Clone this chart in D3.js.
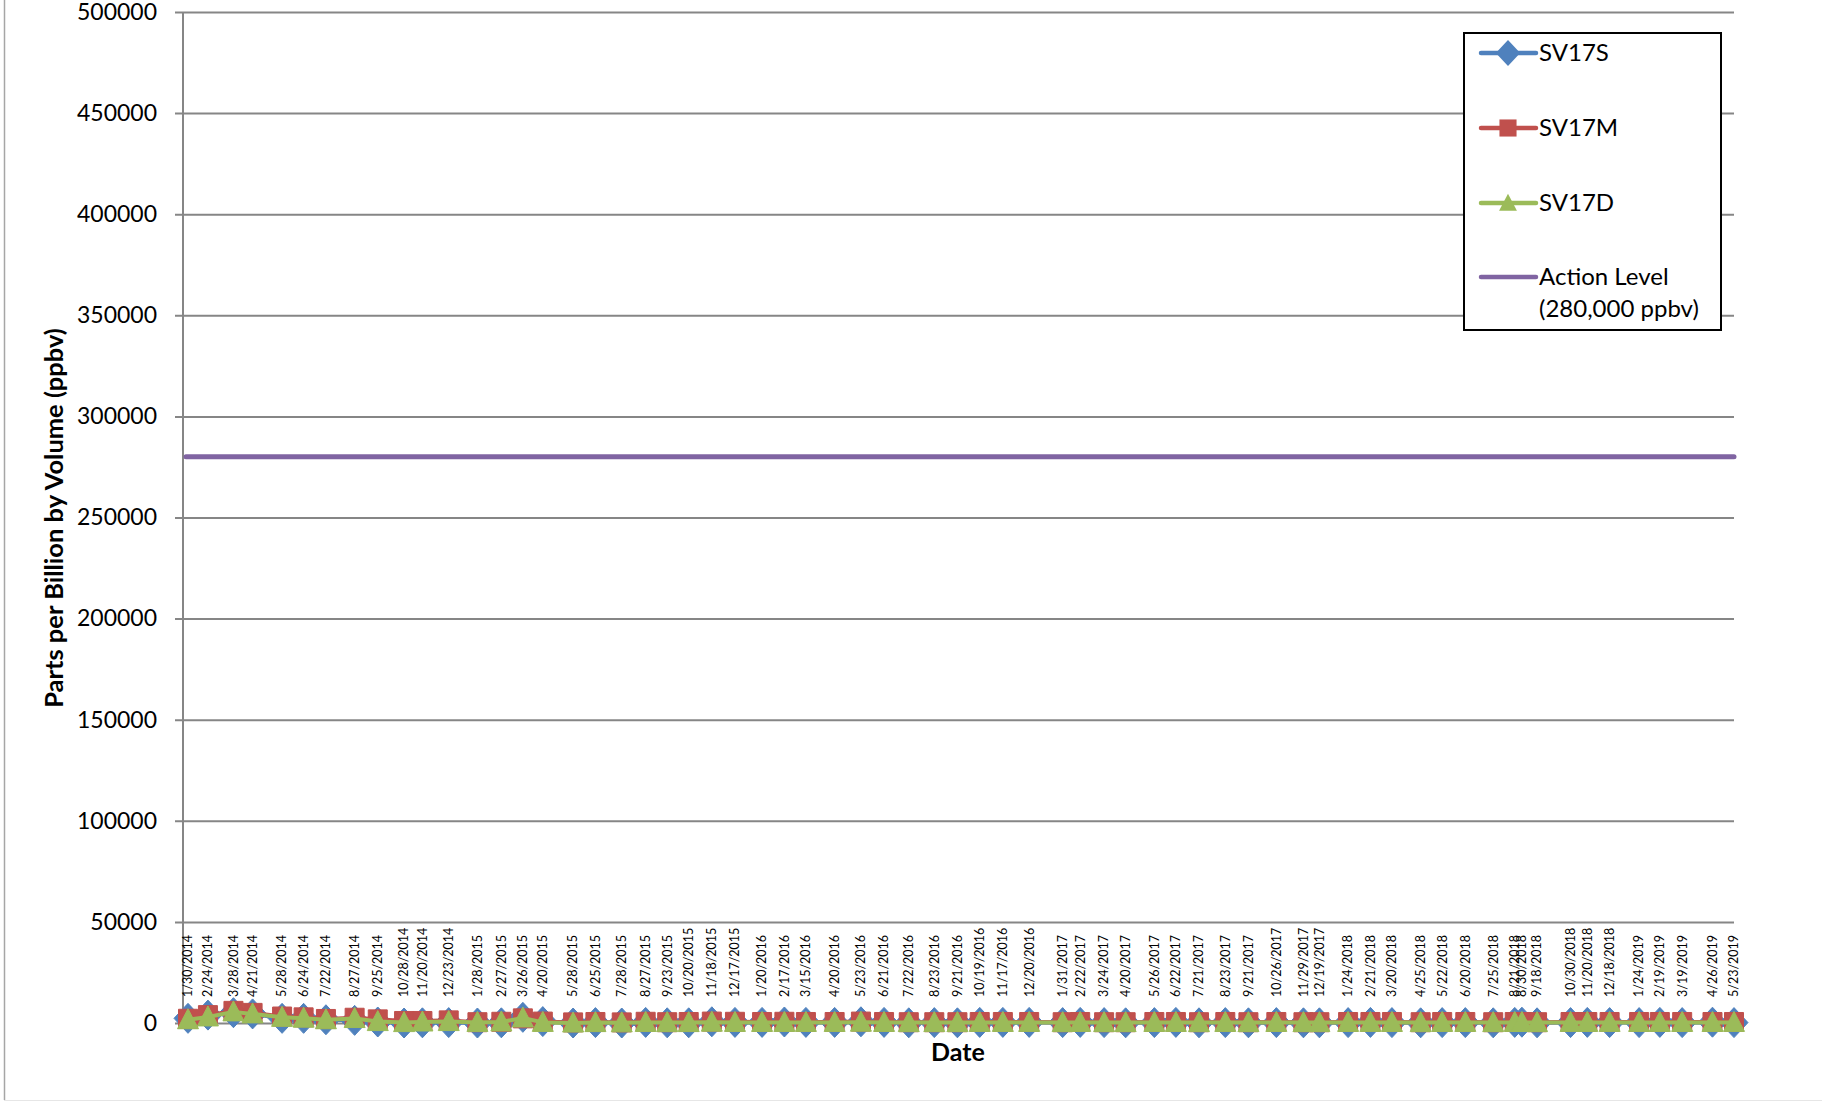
<!DOCTYPE html>
<html>
<head>
    <meta charset="UTF-8">
    <title>SV17 soil vapor</title>
    <style>
        body { margin: 0; background: #fff; }
        text { font-family: Lato, "Noto Sans", sans-serif; }
    </style>
</head>
<body>
    <script src="https://cdn.jsdelivr.net/npm/d3@7"></script>
    <script type="text/javascript">
        // sample dates
        var dates = ["1/30/2014","2/24/2014","3/28/2014","4/21/2014","5/28/2014","6/24/2014","7/22/2014","8/27/2014","9/25/2014","10/28/2014","11/20/2014","12/23/2014",
            "1/28/2015","2/27/2015","3/26/2015","4/20/2015","5/28/2015","6/25/2015","7/28/2015","8/27/2015","9/23/2015","10/20/2015","11/18/2015","12/17/2015",
            "1/20/2016","2/17/2016","3/15/2016","4/20/2016","5/23/2016","6/21/2016","7/22/2016","8/23/2016","9/21/2016","10/19/2016","11/17/2016","12/20/2016",
            "1/31/2017","2/22/2017","3/24/2017","4/20/2017","5/26/2017","6/22/2017","7/21/2017","8/23/2017","9/21/2017","10/26/2017","11/29/2017","12/19/2017",
            "1/24/2018","2/21/2018","3/20/2018","4/25/2018","5/22/2018","6/20/2018","7/25/2018","8/21/2018","8/30/2018","9/18/2018","10/30/2018","11/20/2018","12/18/2018",
            "1/24/2019","2/19/2019","3/19/2019","4/26/2019","5/23/2019"];
        // ppbv values
        var sv17s = [2300,3900,5100,4500,2300,2300,1600,1300,500,0,100,200,
            0,100,2800,700,0,200,0,300,100,100,600,300,
            300,500,300,300,600,300,100,200,100,300,300,300,
            200,300,200,100,200,300,100,200,100,200,100,100,
            200,300,200,100,200,200,100,300,400,100,200,300,200,
            200,300,200,400,200];
        var sv17m = [2100,3900,6000,5000,3200,2800,2000,2600,1800,1000,1000,1300,
            400,600,2300,700,300,500,300,600,400,500,700,600,
            500,600,500,500,700,500,400,400,400,500,500,500,
            400,500,400,400,500,500,400,500,400,500,400,400,
            500,500,500,400,500,500,400,500,500,400,500,500,500,
            500,500,500,500,500];
        var sv17d = [1600,3000,5500,4500,2800,2400,1600,2200,700,200,500,700,
            300,500,2500,300,0,200,100,300,200,200,400,300,
            300,300,300,300,400,300,200,200,200,300,300,300,
            200,300,200,200,300,300,200,300,200,300,200,200,
            300,300,300,200,300,300,200,300,300,200,300,300,300,
            300,300,300,300,300];
        var actionLevel = 280000;
        var yTicks = [0,50000,100000,150000,200000,250000,300000,350000,400000,450000,500000];
        var seriesNames = ["SV17S","SV17M","SV17D","Action Level"];
        var seriesColors = ["#4F81BD","#C0504D","#9BBB59","#8064A2"];

        var width = 1822, height = 1102;
        var svg = d3.select("body").append("svg")
            .attr("width", width)
            .attr("height", height);

        // chart area border
        svg.append("line").attr("x1",4.5).attr("x2",4.5).attr("y1",0).attr("y2",1100)
            .attr("stroke","#a6a6a6").attr("stroke-width",1.5);
        svg.append("line").attr("x1",4).attr("x2",width).attr("y1",1100.5).attr("y2",1100.5)
            .attr("stroke","#e6e6e6").attr("stroke-width",1);

        var parse = d3.timeParse("%m/%d/%Y");
        var dateVals = dates.map(parse);

        var x = d3.scaleTime()
            .domain([dateVals[0], dateVals[dateVals.length-1]])
            .range([188, 1734]);
        var y = d3.scaleLinear()
            .domain([0, 500000])
            .range([1023, 12]);

        //gridlines + y axis
        var yAxis = d3.axisLeft(y)
            .tickValues(yTicks)
            .tickSize(-(1734-175))
            .tickPadding(18)
            .tickFormat(d3.format("d"));
        var gy = svg.append("g")
            .attr("transform","translate(175,0)")
            .call(yAxis);
        gy.select(".domain").remove();
        gy.selectAll(".tick line").attr("stroke","#868686").attr("stroke-width",2);
        gy.selectAll(".tick text")
            .attr("fill","#000")
            .style("font-size","23px")
            .attr("x",-18);
        svg.append("line")
            .attr("x1",183).attr("x2",183).attr("y1",y(500000)).attr("y2",y(0))
            .attr("stroke","#868686").attr("stroke-width",2);

        // date labels (rotated)
        svg.append("g").selectAll("text")
            .data(dates)
            .enter().append("text")
            .attr("transform", function(d,i){ return "translate(" + x(dateVals[i]) + ",997) rotate(-90)"; })
            .attr("dy","0.35em")
            .attr("text-anchor","start")
            .style("font-size","12.5px")
            .attr("fill","#000")
            .text(function(d){ return d; });

        // action level
        svg.append("line")
            .attr("x1",186).attr("x2",1734)
            .attr("y1",y(actionLevel)).attr("y2",y(actionLevel))
            .attr("stroke",seriesColors[3]).attr("stroke-width",5)
            .attr("stroke-linecap","round");

        // marker shapes
        function markerPath(k){
            if(k==0) return "M0,-15L14,0L0,15L-14,0Z";
            if(k==1) return "M-9.5,-9.5L9.5,-9.5L9.5,9.5L-9.5,9.5Z";
            return "M0,-11L10.5,9L-10.5,9Z";
        }

        var line = d3.line()
            .x(function(d){ return x(d[0]); })
            .y(function(d){ return y(d[1]); });

        [sv17s, sv17m, sv17d].forEach(function(vals,k){
            var pts = vals.map(function(v,i){ return [dateVals[i], v]; });
            var g = svg.append("g");
            g.append("path")
                .datum(pts)
                .attr("d", line)
                .attr("fill","none")
                .attr("stroke",seriesColors[k])
                .attr("stroke-width",4)
                .attr("stroke-linejoin","round");
            g.selectAll("path.m")
                .data(pts)
                .enter().append("path")
                .attr("class","m")
                .attr("transform",function(d){ return "translate(" + x(d[0]) + "," + y(d[1]) + ")"; })
                .attr("d", markerPath(k))
                .attr("fill",seriesColors[k])
                .attr("stroke",seriesColors[k])
                .attr("stroke-width",1)
                .attr("stroke-linejoin","round");
        });

        // axis titles
        svg.append("text")
            .attr("transform","translate(63,518) rotate(-90)")
            .attr("text-anchor","middle")
            .style("font-size","25.5px")
            .style("font-weight","bold")
            .text("Parts per Billion by Volume (ppbv)");
        svg.append("text")
            .attr("x",958).attr("y",1061)
            .attr("text-anchor","middle")
            .style("font-size","25px")
            .style("font-weight","bold")
            .text("Date");

        // legend
        var lg = svg.append("g");
        lg.append("rect")
            .attr("x",1464).attr("y",33).attr("width",257).attr("height",297)
            .attr("fill","#fff").attr("stroke","#000").attr("stroke-width",2);
        var legendY = [53,128,203,277];
        seriesNames.forEach(function(name,k){
            var cy = legendY[k];
            lg.append("line")
                .attr("x1",1481).attr("x2",1536).attr("y1",cy).attr("y2",cy)
                .attr("stroke",seriesColors[k]).attr("stroke-width",4.5)
                .attr("stroke-linecap","round");
            if(k<3){
                lg.append("path")
                    .attr("transform","translate(1508," + cy + ")" + (k==0 ? " scale(0.87)" : k==1 ? " scale(0.9)" : " scale(0.85)"))
                    .attr("d", markerPath(k))
                    .attr("fill",seriesColors[k]);
            }
            lg.append("text")
                .attr("x",1539).attr("y",cy)
                .attr("dy","0.35em")
                .style("font-size","24px")
                .text(name);
        });
        lg.append("text")
            .attr("x",1539).attr("y",317)
            .style("font-size","24px")
            .text("(280,000 ppbv)");
    </script>
</body>
</html>
